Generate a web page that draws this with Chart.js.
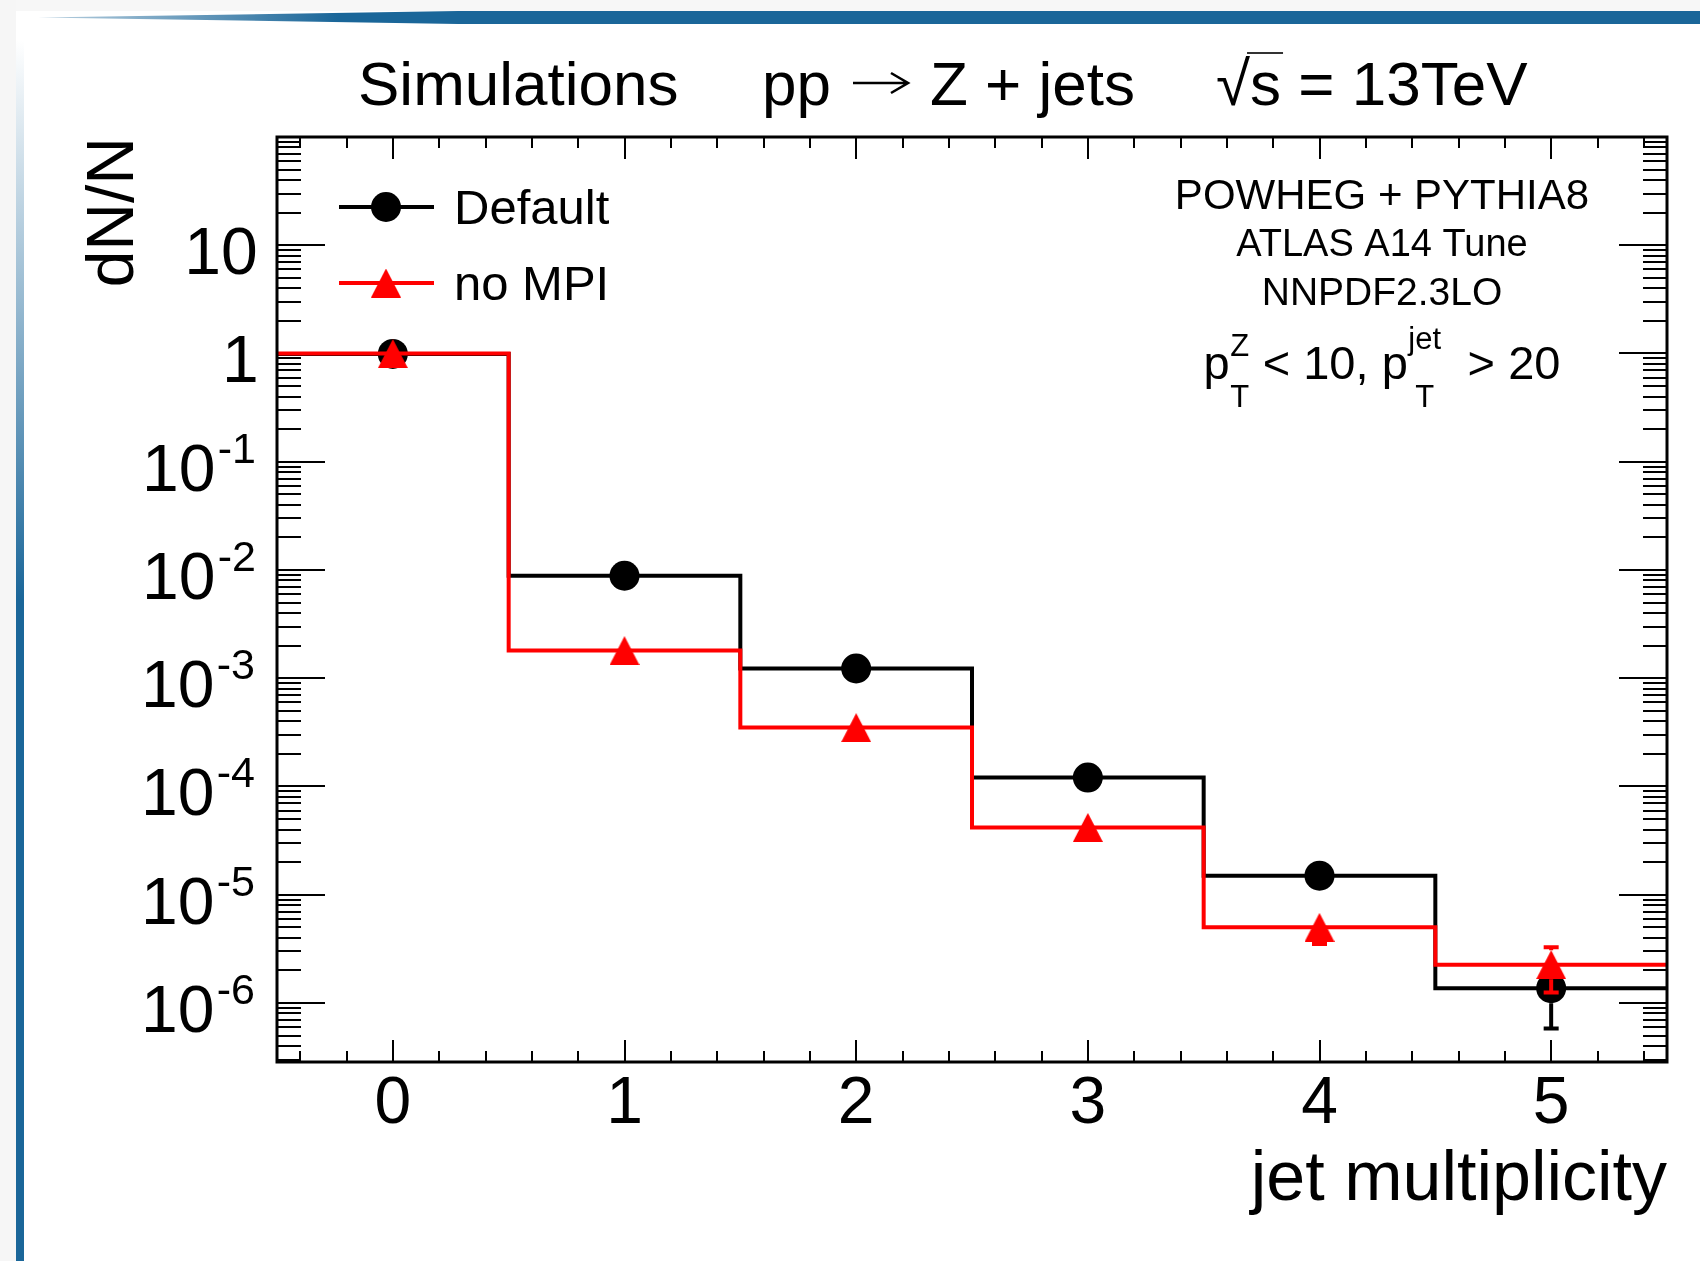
<!DOCTYPE html>
<html>
<head>
<meta charset="utf-8">
<title>Z + jets jet multiplicity</title>
<script src="https://cdn.jsdelivr.net/npm/chart.js@4.4.1/dist/chart.umd.min.js"></script>
<style>
html,body{margin:0;padding:0;background:#fff;}
#wrap{position:relative;width:1700px;height:1261px;overflow:hidden;background:#fff;}
#bgTop{position:absolute;left:0;top:0;width:1700px;height:11px;background:#f7f7f7;}
#bgLeft{position:absolute;left:0;top:0;width:16px;height:1261px;background:#f6f6f6;}
#barTop{position:absolute;left:38px;top:11px;width:1662px;height:13px;
  background:linear-gradient(to right,rgba(26,102,153,0.3) 0px,#1a6699 300px,#1a6699 100%);
  clip-path:polygon(0 50%,420px 0,100% 0,100% 100%,420px 100%);}
#barLeft{position:absolute;left:16px;top:40px;width:8px;height:1221px;
  background:linear-gradient(to bottom,rgba(26,102,153,0) 0px,rgba(26,102,153,0.45) 260px,#1a6699 560px,#1a6699 100%);}
#c{position:absolute;left:0;top:0;}
</style>
</head>
<body>
<div id="wrap">
  <div id="bgTop"></div>
  <div id="bgLeft"></div>
  <div id="barTop"></div>
  <div id="barLeft"></div>
  <canvas id="c" width="1700" height="1261"></canvas>
</div>
<script>
// ---------------- data ----------------
const categories = [0, 1, 2, 3, 4, 5];
const defaultValues = [0.990, 8.85e-3, 1.23e-3, 1.21e-4, 1.50e-5, 1.37e-6];
const defaultErrors = [6.7e-4, 6.3e-5, 2.4e-5, 7.4e-6, 2.6e-6, 7.9e-7];
const noMpiValues = [0.998, 1.80e-3, 3.50e-4, 4.19e-5, 5.0e-6, 2.26e-6];
const noMpiErrors = [6.7e-4, 2.9e-5, 1.3e-5, 4.4e-6, 1.5e-6, 1.01e-6];
const seriesLabels = ['Default', 'no MPI'];
const xTickValues = [0, 1, 2, 3, 4, 5];
const xTickLabels = ['0', '1', '2', '3', '4', '5'];
const yTickValues = [10, 1, 1e-1, 1e-2, 1e-3, 1e-4, 1e-5, 1e-6];
const yTickBase = ['10', '1', '10', '10', '10', '10', '10', '10'];
const yTickExp = ['', '', '-1', '-2', '-3', '-4', '-5', '-6'];
const xAxisTitle = 'jet multiplicity';
const yAxisTitle = 'dN/N';
const titleParts = ['Simulations', 'pp', 'Z + jets', '\u221A', 's', ' = 13TeV'];
const infoLines = ['POWHEG + PYTHIA8', 'ATLAS A14 Tune', 'NNPDF2.3LO'];
const cutPieces = [
  {text: 'p'}, {sup: 'Z', sub: 'T'}, {text: ' < 10, p'}, {sup: 'jet', sub: 'T'}, {text: '  > 20'}
];

// ---------------- helpers ----------------
const FONT = "'Liberation Sans', Arial, Helvetica, sans-serif";
const BLACK = '#000000';
const RED = '#ff0000';

function stepPoints(vals) {
  const pts = categories.map((c, i) => ({x: c - 0.5, y: vals[i]}));
  pts.push({x: categories[categories.length - 1] + 0.5, y: vals[vals.length - 1]});
  return pts;
}
function markerPoints(vals) {
  return categories.map((c, i) => ({x: c, y: vals[i]}));
}
function makeTriangle(color, w, h) {
  const c = document.createElement('canvas');
  c.width = w; c.height = h;
  const g = c.getContext('2d');
  g.fillStyle = color;
  g.beginPath();
  g.moveTo(w / 2, 0); g.lineTo(w, h); g.lineTo(0, h); g.closePath();
  g.fill();
  return c;
}
const redTriangle = makeTriangle(RED, 30, 29);

// ---------------- plugins ----------------
const frameTicks = {
  id: 'frameTicks',
  beforeDatasetsDraw(chart) {
    const {ctx, chartArea: a, scales: {x, y}} = chart;
    ctx.save();
    ctx.strokeStyle = BLACK;
    ctx.lineWidth = 2;
    ctx.lineCap = 'butt';
    ctx.beginPath();
    for (let i = -2; i <= 27; i++) {
      const v = i / 5;
      if (v <= x.min || v >= x.max) continue;
      const px = Math.round(x.getPixelForValue(v));
      const len = (i % 5 === 0) ? 22 : 11;
      ctx.moveTo(px, a.bottom); ctx.lineTo(px, a.bottom - len);
      ctx.moveTo(px, a.top); ctx.lineTo(px, a.top + len);
    }
    for (let n = -8; n <= 2; n++) {
      for (let k = 1; k <= 9; k++) {
        const v = k * Math.pow(10, n);
        if (v <= y.min || v >= y.max) continue;
        const py = Math.round(y.getPixelForValue(v));
        const len = (k === 1) ? 48 : 24;
        ctx.moveTo(a.left, py); ctx.lineTo(a.left + len, py);
        ctx.moveTo(a.right, py); ctx.lineTo(a.right - len, py);
      }
    }
    ctx.stroke();
    ctx.restore();
  },
  afterDatasetsDraw(chart) {
    const {ctx, chartArea: a} = chart;
    ctx.save();
    ctx.strokeStyle = BLACK;
    ctx.lineWidth = 3;
    ctx.strokeRect(a.left, a.top, a.right - a.left, a.bottom - a.top);
    ctx.restore();
  }
};

// error bars drawn only outside the marker (ROOT E1 style)
const errorBars = {
  id: 'errorBars',
  beforeDatasetDraw(chart, args) {
    const ds = chart.data.datasets[args.index];
    if (!ds.errors) return;
    const {ctx} = chart;
    const x = chart.scales.x, y = chart.scales.y;
    const s = ds.markerHalf;
    ctx.save();
    ctx.strokeStyle = ds.errColor;
    ctx.lineWidth = 4;
    ctx.lineCap = 'butt';
    ds.data.forEach((p, i) => {
      const px = x.getPixelForValue(p.x);
      const pc = y.getPixelForValue(p.y);
      const lo = y.getPixelForValue(Math.max(p.y - ds.errors[i], y.min));
      const hi = y.getPixelForValue(p.y + ds.errors[i]);
      ctx.beginPath();
      if (lo - pc > s) {
        ctx.moveTo(px, pc + s); ctx.lineTo(px, lo);
        ctx.moveTo(px - 7.5, lo); ctx.lineTo(px + 7.5, lo);
      }
      if (pc - hi > s) {
        ctx.moveTo(px, pc - s); ctx.lineTo(px, hi);
        ctx.moveTo(px - 7.5, hi); ctx.lineTo(px + 7.5, hi);
      }
      ctx.stroke();
    });
    ctx.restore();
  }
};

const annotations = {
  id: 'annotations',
  afterDraw(chart) {
    const {ctx, chartArea: a} = chart;
    const y = chart.scales.y;
    ctx.save();
    ctx.fillStyle = BLACK;
    ctx.textBaseline = 'alphabetic';

    // ---- y tick labels (base + superscript exponent), right-aligned by ink ----
    ctx.textAlign = 'left';
    yTickValues.forEach((v, i) => {
      const py = y.getPixelForValue(v);
      if (yTickExp[i]) {
        ctx.font = '43px ' + FONT;
        const me = ctx.measureText(yTickExp[i]);
        const ex = a.left - 23 - me.actualBoundingBoxRight;
        ctx.fillText(yTickExp[i], ex, py + 1);
        const expInkLeft = ex - me.actualBoundingBoxLeft;
        ctx.font = '66px ' + FONT;
        const mb = ctx.measureText(yTickBase[i]);
        ctx.fillText(yTickBase[i], expInkLeft - 5 - mb.actualBoundingBoxRight, py + 29);
      } else {
        ctx.font = '66px ' + FONT;
        const mb = ctx.measureText(yTickBase[i]);
        ctx.fillText(yTickBase[i], a.left - 21 - mb.actualBoundingBoxRight, py + 29);
      }
    });

    // ---- title ----
    ctx.font = '62px ' + FONT;
    ctx.fillText(titleParts[0], 358, 105);
    ctx.fillText(titleParts[1], 762, 105);
    // arrow
    ctx.strokeStyle = BLACK;
    ctx.lineWidth = 2.6;
    ctx.lineCap = 'butt';
    ctx.lineJoin = 'miter';
    ctx.beginPath();
    ctx.moveTo(853, 83); ctx.lineTo(907, 83);
    ctx.moveTo(891, 73); ctx.lineTo(908, 83); ctx.lineTo(891, 93);
    ctx.stroke();
    ctx.fillText(titleParts[2], 930, 105);
    let tx = 1216;
    ctx.fillText(titleParts[3], tx, 105);
    tx += ctx.measureText(titleParts[3]).width;
    const sx0 = tx;
    ctx.fillText(titleParts[4], tx, 105);
    tx += ctx.measureText(titleParts[4]).width;
    ctx.strokeStyle = '#333';
    ctx.lineWidth = 2;
    ctx.beginPath(); ctx.moveTo(sx0 - 3, 53); ctx.lineTo(tx + 2, 53); ctx.stroke();
    ctx.fillText(titleParts[5], tx, 105);

    // ---- legend ----
    const legendRows = [
      {label: seriesLabels[0], color: BLACK, marker: 'circle', y: 207},
      {label: seriesLabels[1], color: RED, marker: 'triangle', y: 283}
    ];
    legendRows.forEach(r => {
      ctx.strokeStyle = r.color;
      ctx.lineWidth = 4;
      ctx.beginPath(); ctx.moveTo(339, r.y); ctx.lineTo(434, r.y); ctx.stroke();
      if (r.marker === 'circle') {
        ctx.fillStyle = r.color;
        ctx.beginPath(); ctx.arc(386, r.y, 15, 0, Math.PI * 2); ctx.fill();
      } else {
        ctx.drawImage(redTriangle, 386 - 15, r.y - 14.5);
      }
      ctx.fillStyle = BLACK;
      ctx.font = '49px ' + FONT;
      ctx.textAlign = 'left';
      ctx.fillText(r.label, 454, r.y + 17);
    });

    // ---- info text box ----
    ctx.textAlign = 'center';
    const infoFonts = [42, 38, 39];
    const infoBase = [209, 255.5, 304.5];
    infoLines.forEach((t, i) => {
      ctx.font = infoFonts[i] + 'px ' + FONT;
      ctx.fillText(t, 1382, infoBase[i]);
    });

    // ---- cuts line with sub/superscripts ----
    ctx.textAlign = 'left';
    const mainF = '47px ' + FONT, smallF = '31px ' + FONT;
    const widths = cutPieces.map(p => {
      if (p.text !== undefined) { ctx.font = mainF; return ctx.measureText(p.text).width; }
      ctx.font = smallF;
      return Math.max(ctx.measureText(p.sup).width, ctx.measureText(p.sub).width) + 1;
    });
    const total = widths.reduce((s, w) => s + w, 0);
    let cx = 1382 - total / 2;
    const base = 379;
    cutPieces.forEach((p, i) => {
      if (p.text !== undefined) {
        ctx.font = mainF;
        ctx.fillText(p.text, cx, base);
      } else {
        ctx.font = smallF;
        const ms = ctx.measureText(p.sup), mb = ctx.measureText(p.sub);
        ctx.fillText(p.sup, cx + (widths[i] - ms.width) / 2, 356 - ms.actualBoundingBoxDescent);
        ctx.fillText(p.sub, cx + (widths[i] - mb.width) / 2, 407);
      }
      cx += widths[i];
    });
    ctx.restore();
  }
};

// ---------------- chart ----------------
Chart.defaults.font.family = FONT;
Chart.defaults.color = BLACK;

new Chart(document.getElementById('c'), {
  type: 'line',
  data: {
    datasets: [
      {
        label: seriesLabels[0] + ' hist',
        data: stepPoints(defaultValues),
        borderColor: BLACK, borderWidth: 4, stepped: true,
        borderJoinStyle: 'miter', borderCapStyle: 'butt',
        pointRadius: 0, fill: false, order: 4
      },
      {
        label: seriesLabels[0],
        data: markerPoints(defaultValues),
        errors: defaultErrors, errColor: BLACK, markerHalf: 15,
        showLine: false, pointStyle: 'circle', pointRadius: 15,
        pointBackgroundColor: BLACK, pointBorderWidth: 0, borderColor: BLACK, order: 3
      },
      {
        label: seriesLabels[1] + ' hist',
        data: stepPoints(noMpiValues),
        borderColor: RED, borderWidth: 4, stepped: true,
        borderJoinStyle: 'miter', borderCapStyle: 'butt',
        pointRadius: 0, fill: false, order: 2
      },
      {
        label: seriesLabels[1],
        data: markerPoints(noMpiValues),
        errors: noMpiErrors, errColor: RED, markerHalf: 14.5,
        showLine: false, pointStyle: redTriangle, pointRadius: 15,
        pointBackgroundColor: RED, pointBorderWidth: 0, borderColor: RED, order: 1
      }
    ]
  },
  options: {
    responsive: false,
    animation: false,
    events: [],
    layout: {padding: {top: 137, right: 33, bottom: 0, left: 0}},
    plugins: {legend: {display: false}, tooltip: {enabled: false}, title: {display: false}},
    scales: {
      x: {
        type: 'linear', min: -0.5, max: 5.5, position: 'bottom',
        grid: {display: false, drawTicks: false},
        border: {display: false},
        afterBuildTicks: s => { s.ticks = xTickValues.map(v => ({value: v})); },
        afterFit: s => { s.height = 199; },
        ticks: {
          autoSkip: false, maxRotation: 0, padding: 3,
          font: {size: 66}, color: BLACK,
          callback: v => xTickLabels[xTickValues.indexOf(v)]
        },
        title: {display: true, text: xAxisTitle, align: 'end', color: BLACK,
                font: {size: 70}, padding: {top: 0, bottom: 38}}
      },
      y: {
        type: 'logarithmic', min: 2.85e-7, max: 100, position: 'left',
        grid: {display: false, drawTicks: false},
        border: {display: false},
        afterBuildTicks: s => { s.ticks = yTickValues.map(v => ({value: v})); },
        afterFit: s => { s.width = 277; },
        ticks: {display: false},
        title: {display: true, text: yAxisTitle, align: 'end', color: BLACK,
                font: {size: 66}, padding: {top: 75, bottom: 0}}
      }
    }
  },
  plugins: [frameTicks, errorBars, annotations]
});
</script>
</body>
</html>
